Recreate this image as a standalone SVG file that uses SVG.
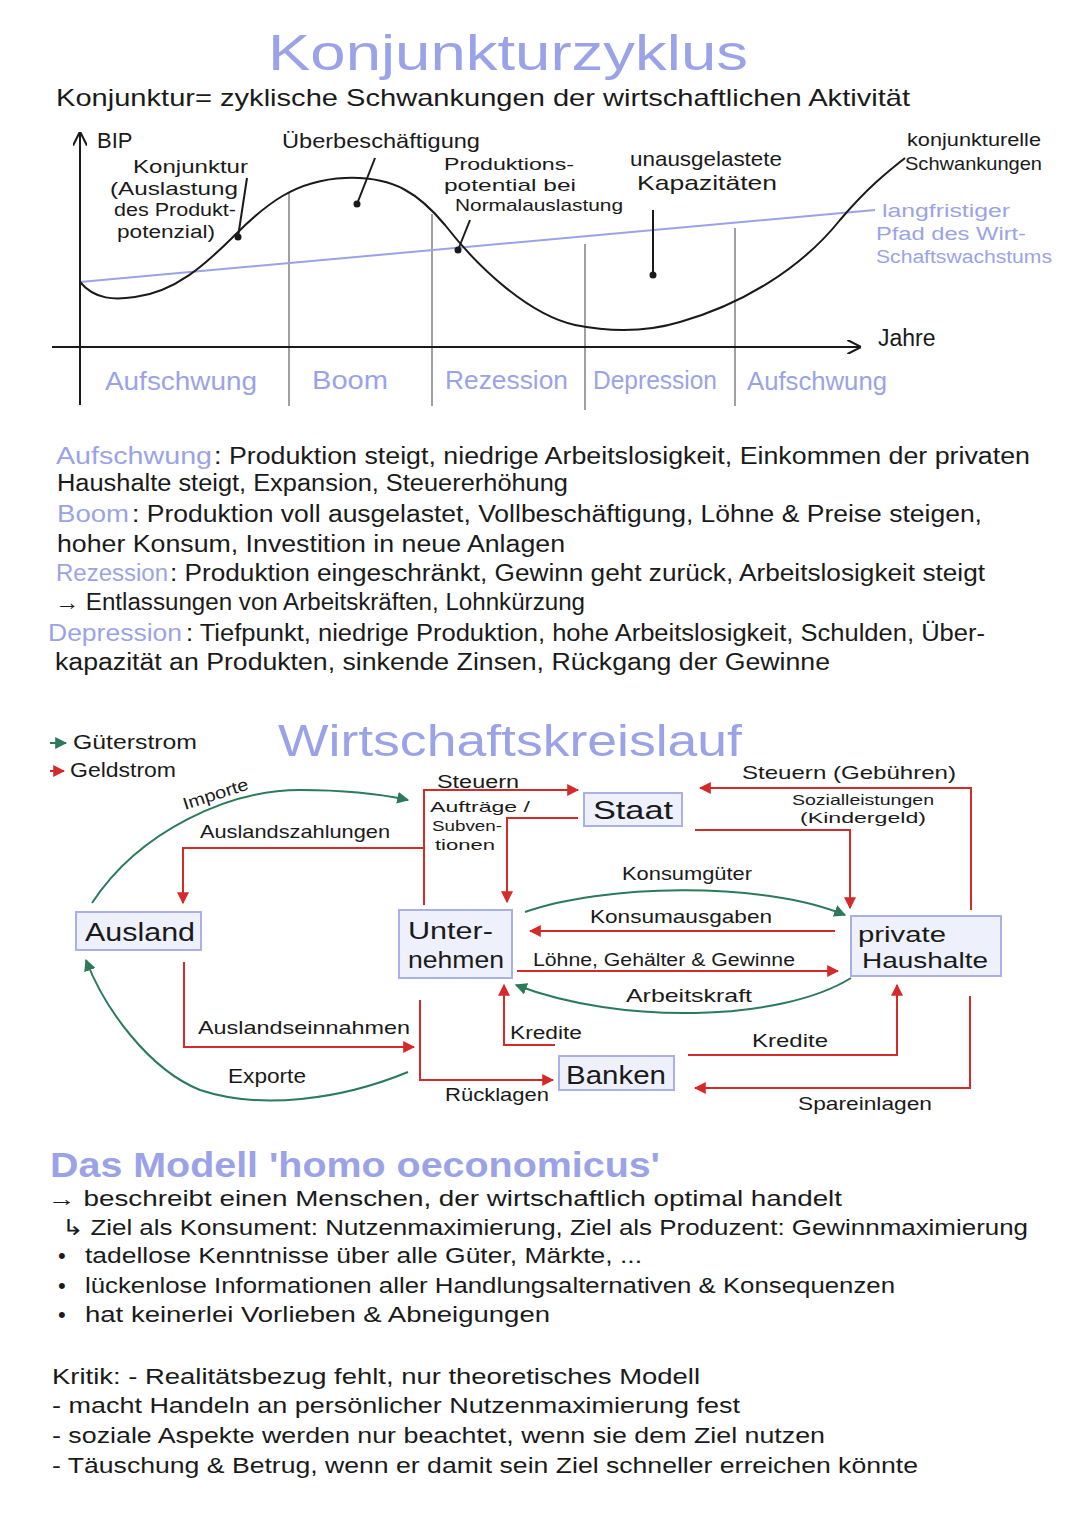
<svg xmlns="http://www.w3.org/2000/svg" width="1080" height="1527" viewBox="0 0 1080 1527">
<defs>
<style>
.t{font-family:"Liberation Sans","Open Sans",sans-serif;fill:#1a1a1a;}
.b{font-family:"Liberation Sans","Open Sans",sans-serif;fill:#9ba3e8;}
.box{fill:#eef0fb;stroke:#a9b0e6;stroke-width:2;}
.red{fill:none;stroke:#d42a2a;stroke-width:2;}
.grn{fill:none;stroke:#2b7a5a;stroke-width:2;}
.grid{stroke:#a0a0a0;stroke-width:2;}
.ax{stroke:#1a1a1a;stroke-width:2;fill:none;}
</style>
<marker id="ar" viewBox="0 0 10 10" refX="9" refY="5" markerWidth="6" markerHeight="6" orient="auto"><path d="M0,0 L10,5 L0,10 z" fill="#d42a2a"/></marker>
<marker id="ag" viewBox="0 0 10 10" refX="9" refY="5" markerWidth="6" markerHeight="6" orient="auto"><path d="M0,0 L10,5 L0,10 z" fill="#2b7a5a"/></marker>
<marker id="ak" viewBox="0 0 10 10" refX="9" refY="5" markerWidth="7" markerHeight="7" orient="auto"><path d="M0,0 L10,5 L0,10" fill="none" stroke="#1a1a1a" stroke-width="1.5"/></marker>
</defs>
<rect width="1080" height="1527" fill="#ffffff"/>

<!-- Konjunkturzyklus -->
<text class="b" x="268" y="70" font-size="50" textLength="480" lengthAdjust="spacingAndGlyphs">Konjunkturzyklus</text>
<text class="t" x="56" y="106" font-size="24" textLength="854" lengthAdjust="spacingAndGlyphs">Konjunktur= zyklische Schwankungen der wirtschaftlichen Aktivität</text>

<g id="chart">
<line class="grid" x1="289" y1="192" x2="289" y2="406"/>
<line class="grid" x1="432" y1="214" x2="432" y2="406"/>
<line class="grid" x1="585" y1="244" x2="585" y2="410"/>
<line class="grid" x1="735" y1="228" x2="735" y2="406"/>
<line x1="80" y1="282" x2="875" y2="210" stroke="#9ba3e8" stroke-width="2"/>
<line class="ax" x1="80" y1="405" x2="80" y2="133" marker-end="url(#ak)"/>
<line class="ax" x1="52" y1="347" x2="860" y2="347" marker-end="url(#ak)"/>
<path class="ax" d="M80,282 C95,300 115,300 135,297 C175,292 205,265 235,235 C265,205 295,180 345,178 C395,176 420,195 445,225 C480,270 530,315 575,325 C600,330 640,334 680,322 C740,305 800,270 840,220 C870,185 890,170 905,158"/>
<circle cx="238" cy="237" r="3.5" fill="#1a1a1a"/>
<circle cx="357" cy="204" r="3.5" fill="#1a1a1a"/>
<circle cx="458" cy="250" r="3.5" fill="#1a1a1a"/>
<circle cx="653" cy="275" r="3.5" fill="#1a1a1a"/>
<line class="ax" x1="247" y1="178" x2="238" y2="237"/>
<line class="ax" x1="375" y1="158" x2="357" y2="204"/>
<line class="ax" x1="470" y1="220" x2="458" y2="250"/>
<line class="ax" x1="653" y1="210" x2="653" y2="275"/>
<text class="t" x="97" y="148" font-size="22">BIP</text>
<text class="t" x="282" y="148" font-size="21" textLength="198" lengthAdjust="spacingAndGlyphs">Überbeschäftigung</text>
<text class="t" x="133" y="173" font-size="19" textLength="115" lengthAdjust="spacingAndGlyphs">Konjunktur</text>
<text class="t" x="110" y="195" font-size="19" textLength="128" lengthAdjust="spacingAndGlyphs">(Auslastung</text>
<text class="t" x="114" y="216" font-size="18" textLength="122" lengthAdjust="spacingAndGlyphs">des Produkt-</text>
<text class="t" x="117" y="238" font-size="18" textLength="98" lengthAdjust="spacingAndGlyphs">potenzial)</text>
<text class="t" x="444" y="170" font-size="17" textLength="130" lengthAdjust="spacingAndGlyphs">Produktions-</text>
<text class="t" x="444" y="191" font-size="17" textLength="132" lengthAdjust="spacingAndGlyphs">potential bei</text>
<text class="t" x="455" y="211" font-size="17" textLength="168" lengthAdjust="spacingAndGlyphs">Normalauslastung</text>
<text class="t" x="630" y="166" font-size="21" textLength="152" lengthAdjust="spacingAndGlyphs">unausgelastete</text>
<text class="t" x="637" y="190" font-size="21" textLength="140" lengthAdjust="spacingAndGlyphs">Kapazitäten</text>
<text class="t" x="907" y="146" font-size="19" textLength="134" lengthAdjust="spacingAndGlyphs">konjunkturelle</text>
<text class="t" x="905" y="170" font-size="19" textLength="137" lengthAdjust="spacingAndGlyphs">Schwankungen</text>
<text class="b" x="882" y="217" font-size="18" textLength="128" lengthAdjust="spacingAndGlyphs">langfristiger</text>
<text class="b" x="876" y="240" font-size="18" textLength="150" lengthAdjust="spacingAndGlyphs">Pfad des Wirt-</text>
<text class="b" x="876" y="263" font-size="18" textLength="176" lengthAdjust="spacingAndGlyphs">Schaftswachstums</text>
<text class="t" x="878" y="346" font-size="23">Jahre</text>
<text class="b" x="105" y="390" font-size="26" textLength="152" lengthAdjust="spacingAndGlyphs">Aufschwung</text>
<text class="b" x="312" y="389" font-size="26" textLength="76" lengthAdjust="spacingAndGlyphs">Boom</text>
<text class="b" x="445" y="389" font-size="26" textLength="123" lengthAdjust="spacingAndGlyphs">Rezession</text>
<text class="b" x="593" y="389" font-size="26" textLength="124" lengthAdjust="spacingAndGlyphs">Depression</text>
<text class="b" x="747" y="390" font-size="26" textLength="140" lengthAdjust="spacingAndGlyphs">Aufschwung</text>
</g>

<g id="phasen">
<text class="b" x="56" y="464" font-size="23" textLength="156" lengthAdjust="spacingAndGlyphs">Aufschwung</text>
<text class="t" x="214" y="464" font-size="23" textLength="816" lengthAdjust="spacingAndGlyphs">: Produktion steigt, niedrige Arbeitslosigkeit, Einkommen der privaten</text>
<text class="t" x="57" y="491" font-size="23" textLength="511" lengthAdjust="spacingAndGlyphs">Haushalte steigt, Expansion, Steuererhöhung</text>
<text class="b" x="57" y="522" font-size="23" textLength="72" lengthAdjust="spacingAndGlyphs">Boom</text>
<text class="t" x="132" y="522" font-size="23" textLength="850" lengthAdjust="spacingAndGlyphs">: Produktion voll ausgelastet, Vollbeschäftigung, Löhne &amp; Preise steigen,</text>
<text class="t" x="57" y="552" font-size="23" textLength="508" lengthAdjust="spacingAndGlyphs">hoher Konsum, Investition in neue Anlagen</text>
<text class="b" x="56" y="581" font-size="23" textLength="112" lengthAdjust="spacingAndGlyphs">Rezession</text>
<text class="t" x="170" y="581" font-size="23" textLength="815" lengthAdjust="spacingAndGlyphs">: Produktion eingeschränkt, Gewinn geht zurück, Arbeitslosigkeit steigt</text>
<text class="t" x="55" y="610" font-size="23" textLength="530" lengthAdjust="spacingAndGlyphs">→ Entlassungen von Arbeitskräften, Lohnkürzung</text>
<text class="b" x="48" y="641" font-size="23" textLength="134" lengthAdjust="spacingAndGlyphs">Depression</text>
<text class="t" x="186" y="641" font-size="23" textLength="799" lengthAdjust="spacingAndGlyphs">: Tiefpunkt, niedrige Produktion, hohe Arbeitslosigkeit, Schulden, Über-</text>
<text class="t" x="55" y="670" font-size="23" textLength="775" lengthAdjust="spacingAndGlyphs">kapazität an Produkten, sinkende Zinsen, Rückgang der Gewinne</text>
</g>

<!-- Wirtschaftskreislauf -->
<text class="b" x="278" y="756" font-size="44" textLength="464" lengthAdjust="spacingAndGlyphs">Wirtschaftskreislauf</text>
<g id="legend">
<line class="grn" x1="50" y1="743" x2="66" y2="743" marker-end="url(#ag)"/>
<text class="t" x="73" y="749" font-size="20" textLength="124" lengthAdjust="spacingAndGlyphs">Güterstrom</text>
<line class="red" x1="50" y1="771" x2="64" y2="771" marker-end="url(#ar)"/>
<text class="t" x="70" y="777" font-size="20" textLength="106" lengthAdjust="spacingAndGlyphs">Geldstrom</text>
</g>

<g id="connectors">
<path class="grn" d="M92,903 C140,830 230,790 300,790 C350,790 385,795 408,800" marker-end="url(#ag)"/>
<path class="grn" d="M408,1072 C340,1100 260,1110 200,1090 C150,1070 105,1010 86,960" marker-end="url(#ag)"/>
<path class="grn" d="M525,912 C600,885 760,880 845,915" marker-end="url(#ag)"/>
<path class="grn" d="M851,978 C780,1022 620,1025 516,985" marker-end="url(#ag)"/>
<path class="red" d="M424,905 V790 H578" marker-end="url(#ar)"/>
<path class="red" d="M578,818 H507 V902" marker-end="url(#ar)"/>
<path class="red" d="M424,848 H183 V903" marker-end="url(#ar)"/>
<path class="red" d="M184,962 V1047 H414" marker-end="url(#ar)"/>
<path class="red" d="M420,1000 V1080 H553" marker-end="url(#ar)"/>
<path class="red" d="M555,1045 H504 V985" marker-end="url(#ar)"/>
<path class="red" d="M971,910 V788 H700" marker-end="url(#ar)"/>
<path class="red" d="M695,830 H850 V908" marker-end="url(#ar)"/>
<path class="red" d="M835,931 H530" marker-end="url(#ar)"/>
<path class="red" d="M517,971 H838" marker-end="url(#ar)"/>
<path class="red" d="M688,1055 H897 V985" marker-end="url(#ar)"/>
<path class="red" d="M970,996 V1088 H695" marker-end="url(#ar)"/>
</g>

<g id="labels">
<text class="t" x="185" y="810" font-size="17" transform="rotate(-18 185 810)" textLength="68" lengthAdjust="spacingAndGlyphs">Importe</text>
<text class="t" x="200" y="838" font-size="19" textLength="190" lengthAdjust="spacingAndGlyphs">Auslandszahlungen</text>
<text class="t" x="437" y="788" font-size="18" textLength="82" lengthAdjust="spacingAndGlyphs">Steuern</text>
<text class="t" x="430" y="812" font-size="15" textLength="100" lengthAdjust="spacingAndGlyphs">Aufträge /</text>
<text class="t" x="432" y="831" font-size="15" textLength="70" lengthAdjust="spacingAndGlyphs">Subven-</text>
<text class="t" x="435" y="850" font-size="15" textLength="60" lengthAdjust="spacingAndGlyphs">tionen</text>
<text class="t" x="742" y="779" font-size="19" textLength="214" lengthAdjust="spacingAndGlyphs">Steuern (Gebühren)</text>
<text class="t" x="792" y="805" font-size="15" textLength="142" lengthAdjust="spacingAndGlyphs">Sozialleistungen</text>
<text class="t" x="800" y="823" font-size="15" textLength="126" lengthAdjust="spacingAndGlyphs">(Kindergeld)</text>
<text class="t" x="622" y="880" font-size="19" textLength="130" lengthAdjust="spacingAndGlyphs">Konsumgüter</text>
<text class="t" x="590" y="923" font-size="19" textLength="182" lengthAdjust="spacingAndGlyphs">Konsumausgaben</text>
<text class="t" x="533" y="966" font-size="18" textLength="262" lengthAdjust="spacingAndGlyphs">Löhne, Gehälter &amp; Gewinne</text>
<text class="t" x="626" y="1002" font-size="19" textLength="126" lengthAdjust="spacingAndGlyphs">Arbeitskraft</text>
<text class="t" x="198" y="1034" font-size="19" textLength="212" lengthAdjust="spacingAndGlyphs">Auslandseinnahmen</text>
<text class="t" x="228" y="1083" font-size="20" textLength="78" lengthAdjust="spacingAndGlyphs">Exporte</text>
<text class="t" x="510" y="1039" font-size="18" textLength="72" lengthAdjust="spacingAndGlyphs">Kredite</text>
<text class="t" x="752" y="1047" font-size="19" textLength="76" lengthAdjust="spacingAndGlyphs">Kredite</text>
<text class="t" x="445" y="1101" font-size="19" textLength="104" lengthAdjust="spacingAndGlyphs">Rücklagen</text>
<text class="t" x="798" y="1110" font-size="19" textLength="134" lengthAdjust="spacingAndGlyphs">Spareinlagen</text>
</g>

<g id="ausland">
<rect class="box" x="76" y="912" width="125" height="38"/>
<text class="t" x="85" y="941" font-size="26" textLength="110" lengthAdjust="spacingAndGlyphs">Ausland</text>
</g>
<g id="unternehmen">
<rect class="box" x="399" y="910" width="113" height="68"/>
<text class="t" x="408" y="939" font-size="24" textLength="85" lengthAdjust="spacingAndGlyphs">Unter-</text>
<text class="t" x="408" y="968" font-size="24" textLength="96" lengthAdjust="spacingAndGlyphs">nehmen</text>
</g>
<g id="staat">
<rect class="box" x="584" y="793" width="98" height="33"/>
<text class="t" x="593" y="819" font-size="25" textLength="80" lengthAdjust="spacingAndGlyphs">Staat</text>
</g>
<g id="haushalte">
<rect class="box" x="851" y="916" width="150" height="60"/>
<text class="t" x="858" y="942" font-size="22" textLength="88" lengthAdjust="spacingAndGlyphs">private</text>
<text class="t" x="862" y="968" font-size="22" textLength="126" lengthAdjust="spacingAndGlyphs">Haushalte</text>
</g>
<g id="banken">
<rect class="box" x="559" y="1056" width="115" height="34"/>
<text class="t" x="566" y="1084" font-size="26" textLength="100" lengthAdjust="spacingAndGlyphs">Banken</text>
</g>

<!-- homo oeconomicus -->
<g id="homo">
<text class="b" x="50" y="1177" font-size="35" font-weight="bold" textLength="610" lengthAdjust="spacingAndGlyphs">Das Modell 'homo oeconomicus'</text>
<text class="t" x="48" y="1206" font-size="22" textLength="794" lengthAdjust="spacingAndGlyphs">→ beschreibt einen Menschen, der wirtschaftlich optimal handelt</text>
<text class="t" x="62" y="1235" font-size="22" textLength="966" lengthAdjust="spacingAndGlyphs">↳ Ziel als Konsument: Nutzenmaximierung, Ziel als Produzent: Gewinnmaximierung</text>
<text class="t" x="58" y="1263" font-size="22">•</text>
<text class="t" x="85" y="1263" font-size="22" textLength="557" lengthAdjust="spacingAndGlyphs">tadellose Kenntnisse über alle Güter, Märkte, ...</text>
<text class="t" x="58" y="1293" font-size="22">•</text>
<text class="t" x="85" y="1293" font-size="22" textLength="810" lengthAdjust="spacingAndGlyphs">lückenlose Informationen aller Handlungsalternativen &amp; Konsequenzen</text>
<text class="t" x="58" y="1322" font-size="22">•</text>
<text class="t" x="85" y="1322" font-size="22" textLength="465" lengthAdjust="spacingAndGlyphs">hat keinerlei Vorlieben &amp; Abneigungen</text>
<text class="t" x="52" y="1384" font-size="22" textLength="648" lengthAdjust="spacingAndGlyphs">Kritik: - Realitätsbezug fehlt, nur theoretisches Modell</text>
<text class="t" x="52" y="1413" font-size="22" textLength="688" lengthAdjust="spacingAndGlyphs">- macht Handeln an persönlicher Nutzenmaximierung fest</text>
<text class="t" x="52" y="1443" font-size="22" textLength="773" lengthAdjust="spacingAndGlyphs">- soziale Aspekte werden nur beachtet, wenn sie dem Ziel nutzen</text>
<text class="t" x="52" y="1473" font-size="22" textLength="866" lengthAdjust="spacingAndGlyphs">- Täuschung &amp; Betrug, wenn er damit sein Ziel schneller erreichen könnte</text>
</g>
</svg>
